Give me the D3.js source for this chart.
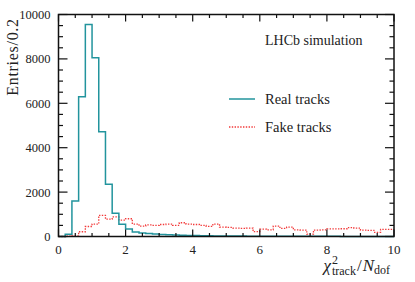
<!DOCTYPE html>
<html>
<head>
<meta charset="utf-8">
<script src="https://cdn.jsdelivr.net/npm/d3@7"></script>
<style>
  body { margin: 0; background: #fff; }
</style>
</head>
<body>
<div id="chart"></div>
<script>
// Chart data, bins of width 0.2 from 0 to 10
const binWidth = 0.2;
const realTracks = [0, 100, 1600, 6300, 9550, 8050, 4720, 2350, 1045, 550,
  340, 200, 160, 130, 110, 90, 80, 70, 55, 45,
  40, 35, 30, 28, 25, 22, 20, 18, 16, 15,
  14, 12, 11, 10, 10, 9, 8, 8, 7, 7,
  6, 6, 5, 5, 5, 4, 4, 4, 3, 3];
const fakeTracks = [0, 20, 30, 215, 450, 560, 950, 780, 880, 740,
  800, 560, 470, 520, 500, 540, 560, 500, 620, 560,
  540, 500, 460, 560, 420, 410, 380, 370, 380, 220,
  330, 300, 470, 370, 420, 300, 290, 110, 290, 300,
  340, 340, 350, 400, 380, 290, 280, 190, 320, 320];
const xTicks = [0, 2, 4, 6, 8, 10];
const yTicks = [0, 2000, 4000, 6000, 8000, 10000];
const seriesNames = ["Real tracks", "Fake tracks"];

const svgWidth = 415;
const svgHeight = 282;
const margin = { top: 14.5, right: 21, bottom: 45.5, left: 58.5 };
const width = svgWidth - margin.left - margin.right;
const height = svgHeight - margin.top - margin.bottom;

const teal = "#22949d";
const red = "#f23a3a";
const serif = "'Liberation Serif'";

const svg = d3.select("#chart").append("svg")
  .attr("width", svgWidth)
  .attr("height", svgHeight);

const g = svg.append("g")
  .attr("transform", `translate(${margin.left}, ${margin.top})`);

const x = d3.scaleLinear().domain([0, 10]).range([0, width]);
const y = d3.scaleLinear().domain([0, 10000]).range([height, 0]);

// step outline for a histogram
function stepLine(vals) {
  const pts = [];
  vals.forEach((v, i) => {
    pts.push([i * binWidth, v]);
    pts.push([(i + 1) * binWidth, v]);
  });
  return d3.line().x(d => x(d[0])).y(d => y(d[1]))(pts);
}

g.append("path")
  .attr("d", stepLine(fakeTracks))
  .attr("fill", "none")
  .attr("stroke", red)
  .attr("stroke-width", 1.3)
  .attr("stroke-dasharray", "1.4,1.4");

g.append("path")
  .attr("d", stepLine(realTracks))
  .attr("fill", "none")
  .attr("stroke", teal)
  .attr("stroke-width", 1.5);

// ticks, drawn inward on all four sides
const tickGroup = g.append("g").attr("stroke", "#111").attr("stroke-width", 1.2);
d3.range(0, 10.01, 0.5).forEach(v => {
  const major = Math.abs(v % 2) < 1e-6;
  const len = major ? 7 : 3.5;
  tickGroup.append("line").attr("x1", x(v)).attr("x2", x(v)).attr("y1", height).attr("y2", height - len);
  tickGroup.append("line").attr("x1", x(v)).attr("x2", x(v)).attr("y1", 0).attr("y2", len);
});
d3.range(0, 10001, 500).forEach(v => {
  const major = v % 2000 === 0;
  const len = major ? 9 : 4.5;
  tickGroup.append("line").attr("x1", 0).attr("x2", len).attr("y1", y(v)).attr("y2", y(v));
  tickGroup.append("line").attr("x1", width).attr("x2", width - len).attr("y1", y(v)).attr("y2", y(v));
});

g.append("rect")
  .attr("width", width)
  .attr("height", height)
  .attr("fill", "none")
  .attr("stroke", "#111")
  .attr("stroke-width", 1.5);

// tick labels
g.selectAll("text.xlab").data(xTicks).enter().append("text")
  .attr("class", "xlab")
  .attr("x", d => x(d))
  .attr("y", height + 17)
  .attr("text-anchor", "middle")
  .attr("fill", "#222")
  .style("font-family", serif)
  .style("font-size", "13px")
  .text(d => d);

g.selectAll("text.ylab").data(yTicks).enter().append("text")
  .attr("class", "ylab")
  .attr("x", -8)
  .attr("y", d => y(d) + 4.5)
  .attr("text-anchor", "end")
  .attr("fill", "#222")
  .style("font-family", serif)
  .style("font-size", "12.5px")
  .text(d => d);

// axis titles
svg.append("text")
  .attr("transform", "translate(18, 57) rotate(-90)")
  .attr("text-anchor", "middle")
  .attr("fill", "#222")
  .style("font-family", serif)
  .style("font-size", "16px")
  .style("letter-spacing", "0.7px")
  .text("Entries/0.2");

const xt = svg.append("text")
  .attr("x", 390)
  .attr("y", 271)
  .attr("text-anchor", "end")
  .attr("fill", "#222")
  .style("font-family", serif)
  .style("font-size", "17px");
xt.append("tspan").style("font-style", "italic").text("χ");
xt.append("tspan").attr("dy", -7).attr("dx", 1).style("font-size", "12px").text("2");
xt.append("tspan").attr("dy", 11).attr("dx", -6).style("font-size", "12px").text("track");
xt.append("tspan").attr("dy", -4).attr("dx", 1).text("/");
xt.append("tspan").attr("dx", 1).style("font-style", "italic").text("N");
xt.append("tspan").attr("dy", 3).style("font-size", "12px").text("dof");

// annotation and legend
svg.append("text")
  .attr("x", 265)
  .attr("y", 45)
  .attr("fill", "#222")
  .style("font-family", serif)
  .style("font-size", "14px")
  .text("LHCb simulation");

const legend = svg.append("g");
const legendY = [99, 127];
[teal, red].forEach((c, i) => {
  legend.append("line")
    .attr("x1", 229).attr("x2", 255)
    .attr("y1", legendY[i]).attr("y2", legendY[i])
    .attr("stroke", c)
    .attr("stroke-width", i === 0 ? 1.5 : 1.3)
    .attr("stroke-dasharray", i === 0 ? null : "1.4,1.4");
  legend.append("text")
    .attr("x", 265)
    .attr("y", legendY[i] + 4.5)
    .attr("fill", "#222")
    .style("font-family", serif)
    .style("font-size", "14.5px")
    .text(seriesNames[i]);
});
</script>
</body>
</html>
